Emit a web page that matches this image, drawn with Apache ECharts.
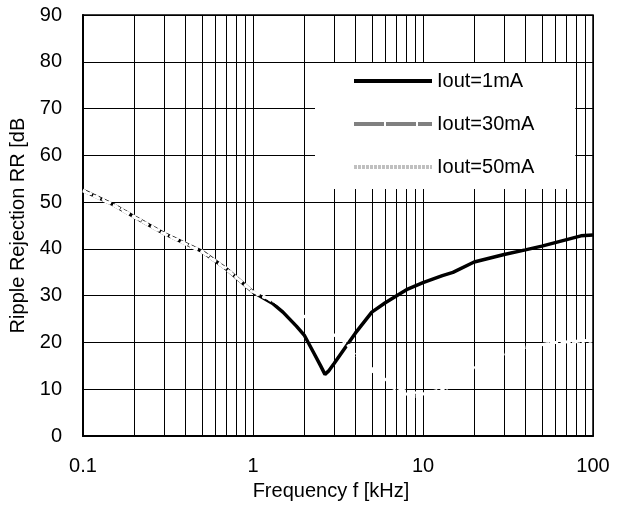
<!DOCTYPE html>
<html><head><meta charset="utf-8">
<script src="https://cdn.jsdelivr.net/npm/echarts@6/dist/echarts.min.js"></script>
<style>html,body{margin:0;padding:0;background:#fff}#c{width:626px;height:506px}</style>
</head><body><div id="c"></div>
<script>
var freq1 = [0.1, 0.15, 0.2, 0.3, 0.5, 0.7, 1, 1.3, 1.5, 1.8, 2, 2.3, 2.5, 2.65, 2.8, 3, 3.5, 4, 5, 6, 7, 8, 10, 13, 15, 20, 30, 40, 50, 70, 85, 100];
var rr1mA = [52.5, 49.5, 46.9, 43.3, 39.5, 35.7, 30.8, 28.4, 26.5, 23.5, 21.6, 17.5, 15, 13.2, 14, 15.5, 19, 22, 26.5, 28.5, 30, 31.3, 32.8, 34.3, 35, 37.2, 38.8, 39.8, 40.6, 42, 42.8, 43];
var freq30 = [0.1, 0.15, 0.2, 0.3, 0.5, 0.7, 1, 1.3, 1.5, 2, 2.5, 3, 3.5, 4, 5, 6.5, 8, 10, 13, 16, 20, 30, 40, 60, 100];
var rr30mA = [52.4, 49.4, 46.8, 43.2, 39.4, 35.6, 30.9, 29, 28, 25.6, 23.4, 21.6, 20.2, 18, 14.5, 11, 9.5, 9, 10, 12.5, 14.8, 17.6, 19, 20, 20.5];
var freq50 = [0.1, 0.15, 0.2, 0.3, 0.5, 0.7, 1, 1.3, 1.5, 2, 2.5, 3, 3.5, 4, 5, 6.5, 8, 9, 10, 13, 16, 20, 30, 40, 60, 100];
var rr50mA = [52.6, 49.6, 47, 43.4, 39.6, 35.8, 30.7, 28.9, 27.9, 25.5, 23.5, 21.5, 20, 17.5, 14, 10.5, 9, 8.5, 8.7, 9.5, 12, 14.5, 17.5, 19, 20, 20.3];
var minorFreqs = [0.2,0.3,0.4,0.5,0.6,0.7,0.8,0.9,2,3,4,5,6,7,8,9,20,30,40,50,60,70,80,90];
var seriesNames = ['Iout=1mA', 'Iout=30mA', 'Iout=50mA'];
var yLabelTitle = 'Ripple Rejection RR [dB';
var xLabelTitle = 'Frequency f [kHz]';

function pairs(x, y) { return x.map(function (v, i) { return [v, y[i]]; }); }

var FONT = 'Liberation Sans, Arial, sans-serif';
var chart = echarts.init(document.getElementById('c'), null, {renderer: 'canvas'});
chart.setOption({
  animation: false,
  backgroundColor: '#fff',
  textStyle: {fontFamily: FONT},
  grid: {left: 83, right: 33, top: 15, bottom: 63, show: true, borderColor: '#000', borderWidth: 1.5, backgroundColor: 'transparent'},
  xAxis: {
    type: 'log', logBase: 10, min: 0.1, max: 100,
    name: xLabelTitle, nameLocation: 'middle', nameGap: 38,
    nameTextStyle: {fontSize: 20, color: '#000', fontFamily: FONT, padding: [0, 14, 0, 0]},
    axisLine: {show: true, lineStyle: {color: '#000', width: 2}},
    axisTick: {show: false},
    axisLabel: {fontSize: 20, color: '#000', margin: 20, fontFamily: FONT, formatter: function (v) { return String(+v.toPrecision(3)); }},
    splitLine: {show: true, lineStyle: {color: '#000', width: 1}}
  },
  yAxis: {
    type: 'value', min: 0, max: 90, interval: 10,
    name: yLabelTitle, nameLocation: 'middle', nameGap: 38,
    nameTextStyle: {fontSize: 20, color: '#000', fontFamily: FONT},
    axisLine: {show: true, lineStyle: {color: '#000', width: 2}},
    axisTick: {show: false},
    axisLabel: {fontSize: 20, color: '#000', margin: 21, fontFamily: FONT},
    splitLine: {show: true, lineStyle: {color: '#000', width: 1}}
  },
  legend: {
    orient: 'vertical', left: 315, top: 63, z: 20,
    padding: [8, 41, 12, 37], itemGap: 23, itemWidth: 78, itemHeight: 14,
    backgroundColor: '#fff', borderWidth: 0,
    textStyle: {fontSize: 20, color: '#000', fontFamily: FONT},
    data: [
      {name: seriesNames[0], itemStyle: {opacity: 0}, lineStyle: {color: '#000', width: 4, type: 'solid'}},
      {name: seriesNames[1], itemStyle: {opacity: 0}, lineStyle: {color: '#808080', width: 4, type: [30, 2]}},
      {name: seriesNames[2], itemStyle: {opacity: 0}, lineStyle: {color: '#c0c0c0', width: 4, type: [3, 1]}}
    ]
  },
  series: [
    {
      type: 'line', name: 'grid', data: [], z: 1, silent: true,
      markLine: {silent: true, z: 1, symbol: 'none', animation: false, label: {show: false},
        lineStyle: {color: '#000', width: 1, type: 'solid'},
        data: minorFreqs.map(function (v) { return {xAxis: v}; })}
    },
    {type: 'line', name: seriesNames[0], data: pairs(freq1, rr1mA), symbol: 'none', z: 3,
      lineStyle: {color: '#000', width: 3.5}, itemStyle: {color: '#000'}},
    {type: 'line', name: seriesNames[1], data: pairs(freq30, rr30mA), symbol: 'none', z: 4,
      lineStyle: {color: '#fff', width: 3, type: [8, 3]}, itemStyle: {color: '#fff'}},
    {type: 'line', name: seriesNames[2], data: pairs(freq50, rr50mA), symbol: 'none', z: 5,
      lineStyle: {color: '#fff', width: 3, type: [3, 4]}, itemStyle: {color: '#fff'}}
  ]
});
</script></body></html>
